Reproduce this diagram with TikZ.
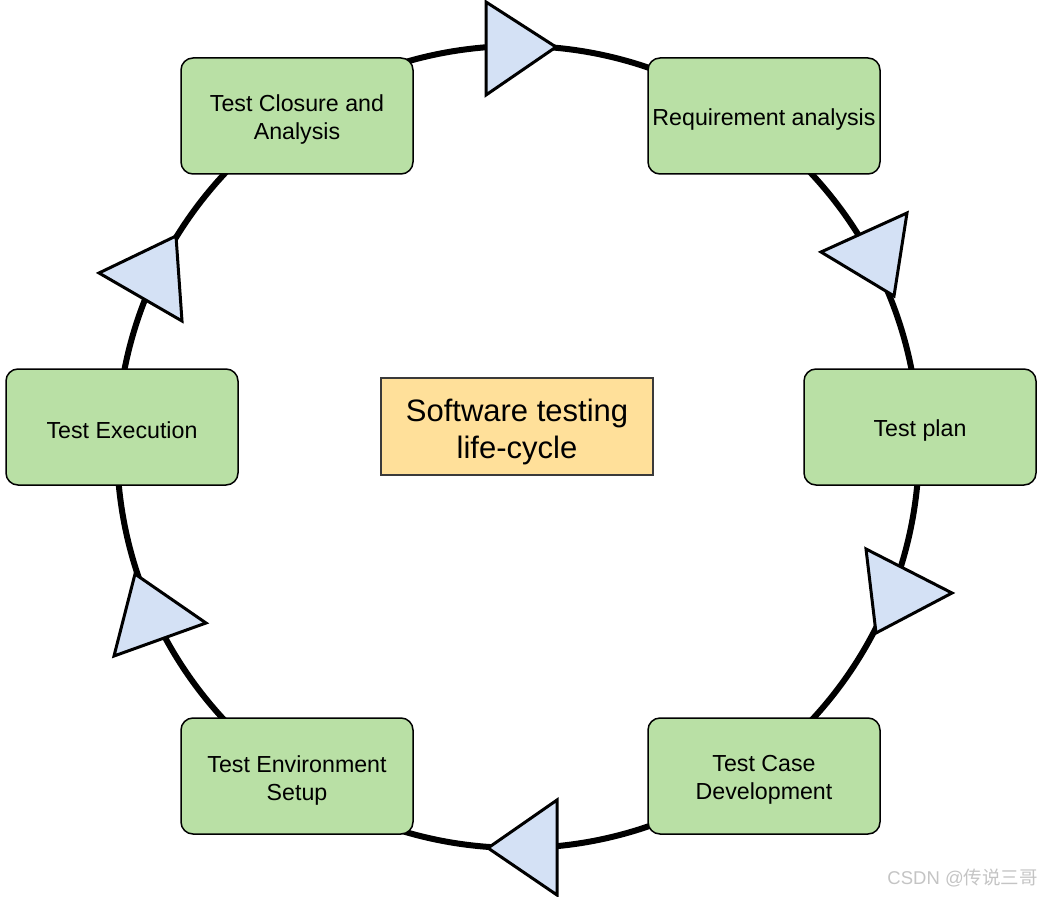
\documentclass[tikz,border=0pt]{standalone}
\usepackage{fontspec}
\setmainfont{Liberation Sans}
\newfontfamily\cjk{Noto Sans CJK SC}
\definecolor{boxgreen}{HTML}{B9E0A5}
\definecolor{arrowblue}{HTML}{D4E1F5}
\definecolor{centeryellow}{HTML}{FFE09A}
\definecolor{centerborder}{HTML}{3A3A3A}
\definecolor{wmgrey}{HTML}{C4C4C4}
\begin{document}
\begin{tikzpicture}[x=1pt,y=-1pt,
  stage/.style={draw=black, line width=1.5pt, fill=boxgreen, rounded corners=12pt,
    minimum width=232pt, minimum height=116pt, inner sep=0pt},
  stagetext/.style={align=center, font=\fontsize{23.2}{28}\selectfont, inner sep=0pt},
  hub/.style={draw=centerborder, line width=1.8pt, fill=centeryellow,
    minimum width=272pt, minimum height=97pt, inner sep=0pt},
  hubtext/.style={align=center, font=\fontsize{31}{37}\selectfont, inner sep=0pt},
  flow/.style={draw=black, line width=3pt, fill=arrowblue, line join=miter},
  ring/.style={draw=black, line width=6pt}
]
\useasboundingbox (0,0) rectangle (1043,896);
\coordinate (c) at (518,447);
\draw[ring] (c) circle[radius=401];
% arrowheads
\draw[flow] (486,2) -- (556,47) -- (486,95) -- cycle;
\draw[flow] (907,213) -- (894,296) -- (821,252) -- cycle;
\draw[flow] (866,549) -- (952,593) -- (876,633) -- cycle;
\draw[flow] (557,800) -- (488,848) -- (557,895) -- cycle;
\draw[flow] (135,574) -- (206,623) -- (114,656) -- cycle;
\draw[flow] (176,236) -- (99,273) -- (182,321) -- cycle;
% stages
\node[stage] (closure) at (297,116) {};
\node[stage] (req) at (764,116) {};
\node[stage] (plan) at (920,427) {};
\node[stage] (exec) at (122,427) {};
\node[stage] (env) at (297,776) {};
\node[stage] (dev) at (764,776) {};
\node[stagetext] (closuret) at ([yshift=-4pt]closure.center) {Test Closure and\\Analysis};
\node[stagetext] (reqt) at ([yshift=-4pt]req.center) {Requirement analysis};
\node[stagetext] (plant) at ([yshift=-3pt]plan.center) {Test plan};
\node[stagetext] (exect) at ([yshift=-3pt]exec.center) {Test Execution};
\node[stagetext] (envt) at ([yshift=-4pt]env.center) {Test Environment\\Setup};
\node[stagetext] (devt) at ([yshift=-4pt]dev.center) {Test Case\\Development};
\node[hub] (center) at (517,426.5) {};
\node[hubtext] (centert) at ([yshift=-5pt]center.center) {Software testing\\life-cycle};
\node[anchor=east, text=wmgrey, font=\fontsize{18.5}{18.5}\selectfont, inner sep=0pt] (wm) at (1038,878) {CSDN @{\cjk 传说三哥}};
\end{tikzpicture}
\end{document}
